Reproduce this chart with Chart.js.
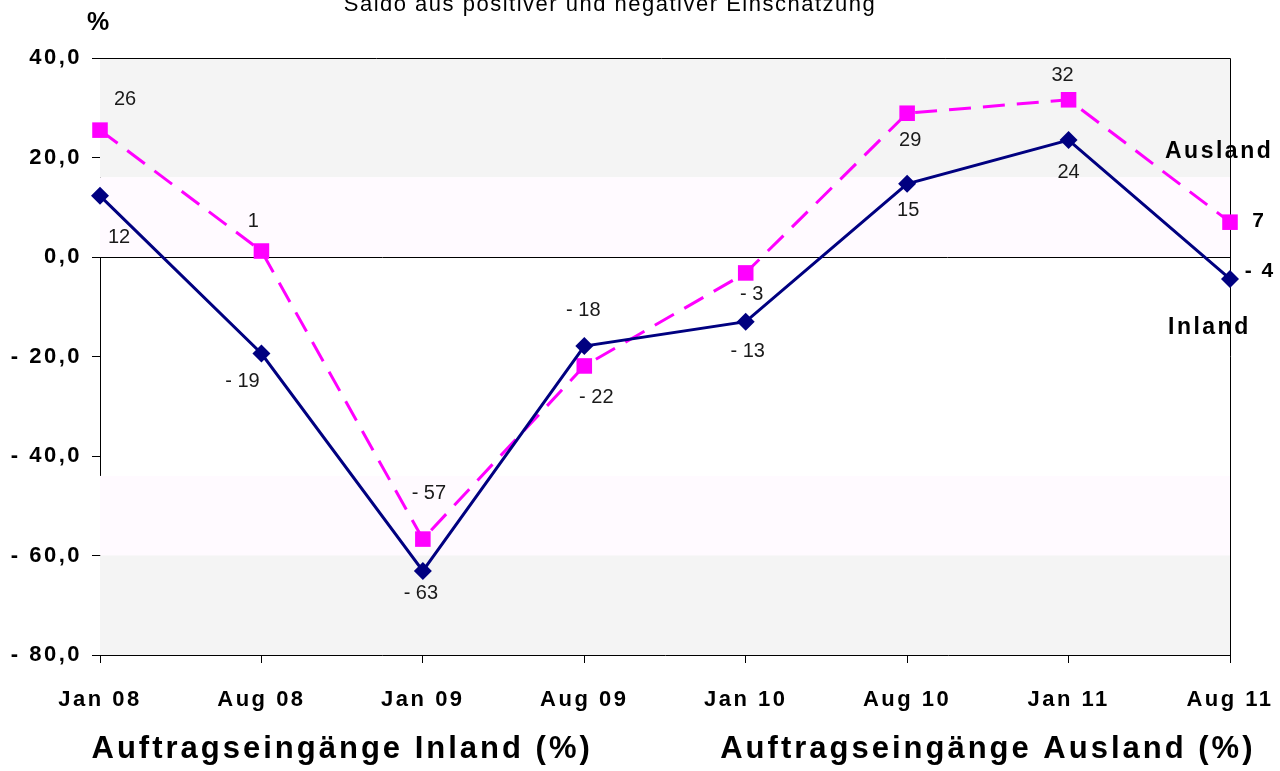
<!DOCTYPE html>
<html lang="de">
<head>
<meta charset="UTF-8">
<title>Auftragseingänge</title>
<script src="https://cdn.jsdelivr.net/npm/chart.js"></script>
<style>
  body { margin: 0; background: #fff; }
  #wrap { width: 1280px; height: 771px; }
</style>
</head>
<body>
<div id="wrap"><canvas id="chart" width="1280" height="771"></canvas></div>
<script>
  // Daten
  const labels = ['Jan 08', 'Aug 08', 'Jan 09', 'Aug 09', 'Jan 10', 'Aug 10', 'Jan 11', 'Aug 11'];
  const inland = [12.3, -19.4, -63.1, -17.9, -13.0, 14.7, 23.5, -4.4];
  const ausland = [25.5, 1.2, -56.7, -21.9, -3.2, 28.9, 31.6, 7.0];
  const yTicks = [40, 20, 0, -20, -40, -60, -80];
  // Hintergrundbänder (Wertebereiche)
  const bandRanges = [[40, 16], [16, 0], [-44, -60], [-60, -80]];
  const bandKinds = ['grey', 'pink', 'pink', 'grey'];

  const FONT = 'Arial, "Liberation Sans", sans-serif';
  const bandColors = { grey: '#f4f4f4', pink: '#fffaff' };

  // Label-Versatz je Punkt [dx, dy]
  const inlandOffsets = [[19, 42], [-19, 28], [-2, 23], [-1, -36], [2, 30], [1, 27], [0, 32], [0, 0]];
  const auslandOffsets = [[25, -31], [-8, -30], [6, -46], [12, 32], [6, 22], [3, 27], [-6, -24], [0, 0]];

  function fmtTick(v) {
    const s = Math.abs(v).toFixed(1).replace('.', ',');
    return v < 0 ? '- ' + s : s;
  }
  function fmtVal(v) {
    const r = Math.round(v);
    return r < 0 ? '- ' + Math.abs(r) : String(r);
  }

  const decoPlugin = {
    id: 'deco',
    beforeDraw(chart) {
      // breitere Laufweite wie im Original
      chart.ctx.letterSpacing = '2.5px';
    },
    beforeDatasetsDraw(chart) {
      const ctx = chart.ctx, a = chart.chartArea, y = chart.scales.y;
      ctx.save();
      bandRanges.forEach((r, i) => {
        const y1 = y.getPixelForValue(r[0]), y2 = y.getPixelForValue(r[1]);
        ctx.fillStyle = bandColors[bandKinds[i]];
        ctx.fillRect(a.left, y1, a.right - a.left, y2 - y1);
      });
      // Nulllinie
      ctx.strokeStyle = '#000';
      ctx.lineWidth = 1;
      const y0 = Math.round(y.getPixelForValue(0)) + 0.5;
      ctx.beginPath();
      ctx.moveTo(a.left, y0);
      ctx.lineTo(a.right, y0);
      ctx.stroke();
      // Rahmen oben und rechts
      ctx.beginPath();
      ctx.moveTo(a.left - 8, a.top + 0.5);
      ctx.lineTo(a.right + 0.5, a.top + 0.5);
      ctx.lineTo(a.right + 0.5, a.bottom);
      ctx.stroke();
      ctx.restore();
    },
    afterDraw(chart) {
      const ctx = chart.ctx, x = chart.scales.x;
      ctx.save();
      ctx.textAlign = 'center';
      ctx.textBaseline = 'middle';
      ctx.letterSpacing = '0px';
      ctx.fillStyle = '#1a1a1a';
      ctx.font = '20px ' + FONT;
      const sets = [[0, inlandOffsets], [1, auslandOffsets]];
      sets.forEach(([di, offs]) => {
        const meta = chart.getDatasetMeta(di);
        const vals = chart.data.datasets[di].data;
        meta.data.forEach((pt, i) => {
          if (i === vals.length - 1) return;
          ctx.fillText(fmtVal(vals[i]), pt.x + offs[i][0], pt.y + offs[i][1]);
        });
      });
      // Endwerte rechts (fett)
      ctx.fillStyle = '#000';
      ctx.font = 'bold 21px ' + FONT;
      ctx.letterSpacing = '2px';
      const lastI = chart.getDatasetMeta(0).data.length - 1;
      const pI = chart.getDatasetMeta(0).data[lastI];
      const pA = chart.getDatasetMeta(1).data[lastI];
      ctx.fillText(fmtVal(inland[lastI]), pI.x + 30, pI.y - 8);
      ctx.fillText(fmtVal(ausland[lastI]), pA.x + 29, pA.y - 1);
      // Serienbeschriftung
      ctx.textAlign = 'left';
      ctx.font = 'bold 23px ' + FONT;
      ctx.letterSpacing = '2.5px';
      ctx.fillText('Ausland', 1165, 152);
      ctx.fillText('Inland', 1168, 328);
      // Einheit
      ctx.textAlign = 'center';
      ctx.font = 'bold 25px ' + FONT;
      ctx.letterSpacing = '0px';
      ctx.fillText('%', 98, 23);
      // Titel (oben abgeschnitten)
      ctx.font = '22px ' + FONT;
      ctx.letterSpacing = '1.5px';
      ctx.textBaseline = 'alphabetic';
      ctx.fillText('Saldo aus positiver und negativer Einschätzung', 610, 11);
      // Achsentitel
      ctx.textBaseline = 'middle';
      ctx.font = 'bold 31px ' + FONT;
      ctx.letterSpacing = '3px';
      ctx.fillText('Auftragseingänge Inland (%)', x.getPixelForValue(1.5), 749);
      ctx.fillText('Auftragseingänge Ausland (%)', x.getPixelForValue(5.5), 749);
      ctx.restore();
    }
  };

  new Chart(document.getElementById('chart').getContext('2d'), {
    type: 'line',
    data: {
      labels: labels,
      datasets: [
        {
          label: 'Inland',
          data: inland,
          borderColor: '#000080',
          backgroundColor: '#000080',
          borderWidth: 3,
          pointStyle: 'rectRot',
          pointRadius: 9,
          pointBorderWidth: 0,
          tension: 0
        },
        {
          label: 'Ausland',
          data: ausland,
          borderColor: '#ff00ff',
          backgroundColor: '#ff00ff',
          borderWidth: 3,
          borderDash: [22, 12],
          pointStyle: 'rect',
          pointRadius: 11,
          pointBorderWidth: 0,
          tension: 0
        }
      ]
    },
    options: {
      responsive: false,
      animation: false,
      layout: { padding: { top: 58, right: 50, left: 0, bottom: 0 } },
      plugins: {
        legend: { display: false },
        tooltip: { enabled: false }
      },
      scales: {
        x: {
          offset: false,
          grid: { display: true, drawOnChartArea: false, tickLength: 8, tickColor: '#000' },
          border: { display: true, color: '#000', width: 1 },
          ticks: {
            color: '#000',
            padding: 24,
            maxRotation: 0,
            font: { family: FONT, size: 22, weight: 'bold' }
          },
          afterFit(s) {
            s.height = 116;
            s.paddingLeft = 0;
            s.paddingRight = 0;
          }
        },
        y: {
          min: -80,
          max: 40,
          afterBuildTicks(s) { s.ticks = yTicks.map(v => ({ value: v })); },
          grid: { drawOnChartArea: false, tickLength: 8, tickColor: '#000' },
          border: { display: true, color: '#000', width: 1 },
          ticks: {
            color: '#000',
            padding: 10,
            font: { family: FONT, size: 22, weight: 'bold' },
            callback: v => fmtTick(v)
          },
          afterFit(s) {
            s.width = 100;
            s.paddingTop = 0;
            s.paddingBottom = 0;
          }
        }
      }
    },
    plugins: [decoPlugin]
  });
</script>
</body>
</html>
